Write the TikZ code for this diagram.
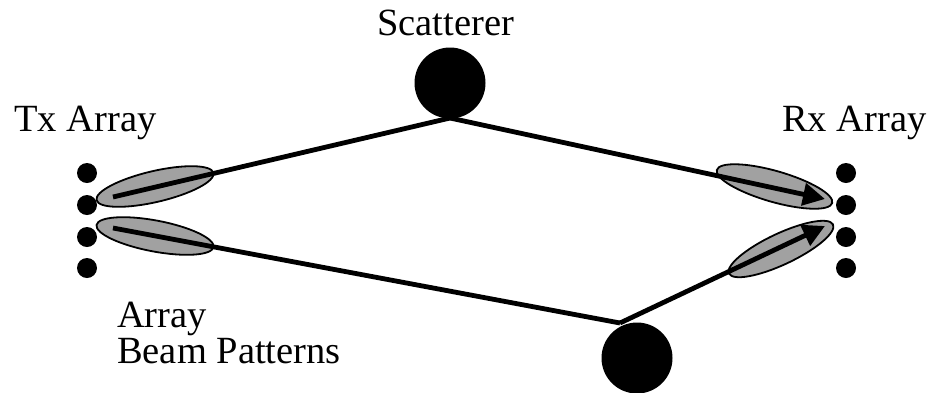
\documentclass[tikz,border=0pt]{standalone}
\usepackage{fontspec}
\setmainfont{Liberation Serif}
\usetikzlibrary{shapes.geometric,arrows.meta}
\tikzset{
  elem/.style={circle,fill=black,inner sep=0pt,minimum size=20pt},
  scat/.style={circle,fill=black,inner sep=0pt,minimum size=71pt},
  beam/.style={ellipse,draw=black,line width=1.8pt,fill=black!37,inner sep=0pt,minimum width=120pt,minimum height=31pt},
  ray/.style={line width=4.8pt},
  rayarrow/.style={line width=4.8pt,-{Triangle[length=22pt,width=22pt]}},
  lbl/.style={anchor=base west,inner sep=0pt,font=\fontsize{38.5}{36}\selectfont}
}
\begin{document}
\begin{tikzpicture}[x=1pt,y=-1pt]
\useasboundingbox (0,0) rectangle (931,392);
% labels
\node[lbl] (tscat) at (377,35) {Scatterer};
\node[lbl] (ttx) at (14,131) {Tx Array};
\node[lbl] (trx) at (782,131) {Rx Array};
\node[lbl] (tarr) at (117,327) {Array};
\node[lbl] (tbeam) at (117,363) {Beam Patterns};
% array elements
\node[elem] (t1) at (87,173) {};
\node[elem] (t2) at (87,205) {};
\node[elem] (t3) at (87,237) {};
\node[elem] (t4) at (87,268) {};
\node[elem] (r1) at (846,173) {};
\node[elem] (r2) at (846,205) {};
\node[elem] (r3) at (846,237) {};
\node[elem] (r4) at (846,268) {};
% scatterers
\node[scat] (s1) at (450,83) {};
\node[scat] (s2) at (637,358) {};
% beam patterns
\node[beam,rotate=13.1] (bt1) at (155,186.5) {};
\node[beam,rotate=-10.7,minimum width=119pt] (bt2) at (155,236) {};
\node[beam,rotate=-16] (br1) at (774.5,186.5) {};
\node[beam,rotate=25.2,minimum width=115pt] (br2) at (781,249) {};
% ray end points
\coordinate (a1) at (113,197);
\coordinate (a2) at (113,228);
\coordinate (p1) at (450,118);
\coordinate (p2) at (620,323);
\coordinate (e1) at (825,199);
\coordinate (e2) at (825,226);
% rays
\draw[ray] (a1) -- (p1);
\draw[rayarrow] (p1) -- (e1);
\draw[ray] (a2) -- (p2);
\draw[rayarrow] (p2) -- (e2);
\end{tikzpicture}
\end{document}
